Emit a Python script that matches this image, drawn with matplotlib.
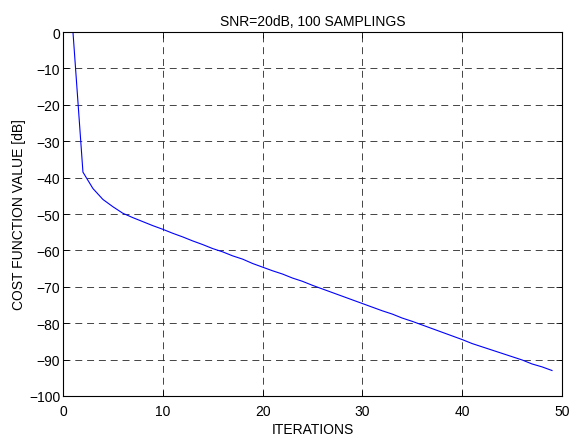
import matplotlib
matplotlib.use('Agg')
import matplotlib.pyplot as plt

# iteration number and cost function value
iterations = list(range(1, 50))
cost_db = [0, -38.5, -43, -46, -48, -49.8, -51, -52.1, -53.2, -54.2,
           -55.3, -56.3, -57.4, -58.4, -59.5, -60.4, -61.5, -62.4, -63.6, -64.6,
           -65.6, -66.5, -67.6, -68.5, -69.6, -70.6, -71.6, -72.6, -73.6, -74.6,
           -75.6, -76.6, -77.5, -78.6, -79.5, -80.5, -81.5, -82.5, -83.5, -84.5,
           -85.6, -86.5, -87.4, -88.3, -89.2, -90.1, -91.2, -92.0, -93.0]

x_ticks = [0, 10, 20, 30, 40, 50]
y_ticks = [0, -10, -20, -30, -40, -50, -60, -70, -80, -90, -100]

plt.rcParams['font.family'] = ['Liberation Sans', 'DejaVu Sans']
plt.rcParams['font.size'] = 10
plt.rcParams['lines.scale_dashes'] = False

fig = plt.figure(figsize=(5.69, 4.39), dpi=100)
ax = fig.add_axes([0.1107, 0.0957, 0.8770, 0.8291])

ax.plot(iterations, cost_db, color='#0000ff', linewidth=0.8)

ax.set_xlim(0, 50)
ax.set_ylim(-100, 0)
ax.set_xticks(x_ticks)
ax.set_yticks(y_ticks)
ax.grid(True, color='0.15', linestyle=(0, (5, 3.5)), linewidth=0.6)
ax.tick_params(direction='in', top=True, right=True, length=4, width=0.6, pad=2)
ax.tick_params(axis='x', pad=5.5)
for s in ax.spines.values():
    s.set_linewidth(0.8)

ax.set_title('SNR=20dB, 100 SAMPLINGS', fontsize=10, pad=5)
ax.set_xlabel('ITERATIONS', labelpad=3)
ax.set_ylabel('COST FUNCTION VALUE [dB]', labelpad=2)

fig.savefig('out.png', dpi=100)
